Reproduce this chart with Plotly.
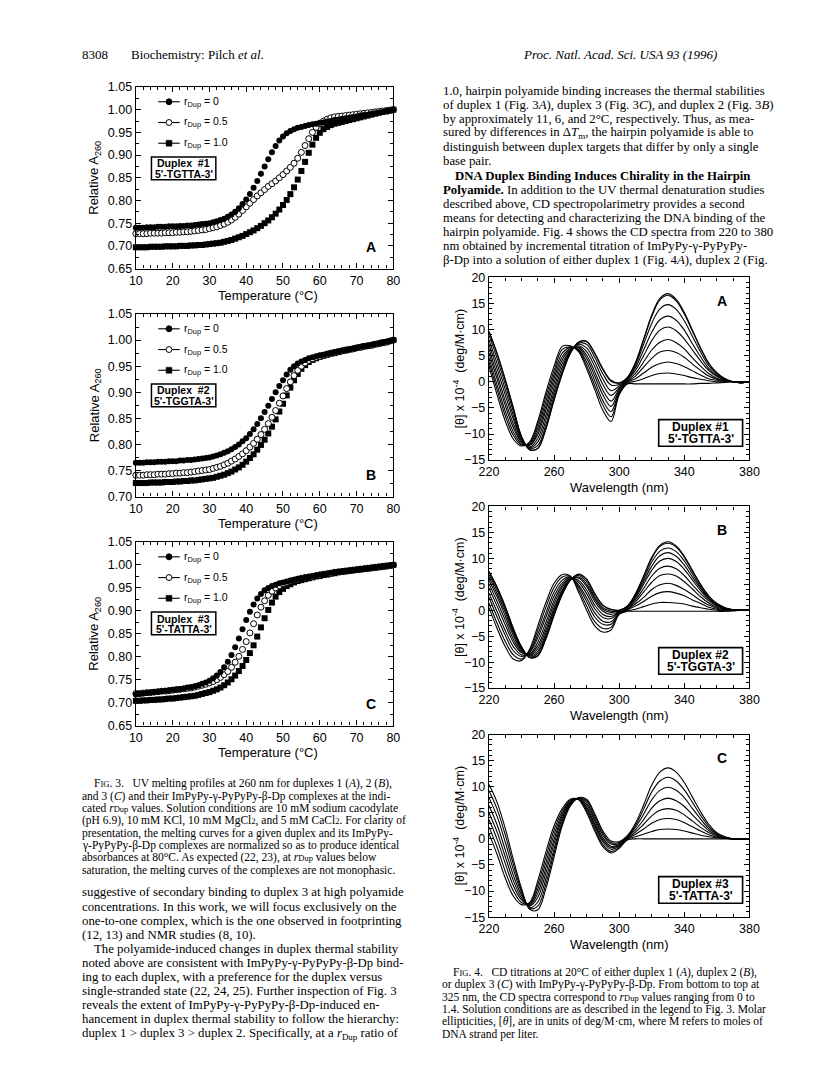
import plotly.graph_objects as go

W, H = 816, 1087

# ---------------- DATA ----------------
temps = list(range(10, 81))

melt_A_r0 = [.740,.740,.740,.741,.741,.741,.742,.742,.742,.743,
             .743,.743,.744,.744,.745,.745,.746,.747,.748,.749,
             .750,.752,.754,.757,.760,.764,.769,.775,.783,.792,
             .802,.814,.828,.843,.859,.875,.891,.906,.920,.932,
             .941,.948,.953,.957,.960,.962,.964,.966,.968,.969,
             .971,.972,.974,.975,.977,.978,.980,.981,.982,.984,
             .985,.987,.988,.989,.991,.992,.994,.995,.997,.998,1.000]
melt_A_r05 = [.727,.727,.727,.727,.728,.728,.728,.728,.729,.729,
              .729,.730,.730,.731,.731,.732,.733,.734,.735,.736,
              .738,.740,.742,.745,.748,.752,.757,.763,.770,.778,
              .786,.794,.802,.810,.817,.824,.831,.837,.843,.850,
              .857,.865,.873,.882,.893,.906,.921,.936,.950,.961,
              .969,.975,.979,.982,.984,.985,.986,.987,.988,.989,
              .990,.991,.992,.993,.994,.995,.996,.997,.998,.999,1.000]
melt_A_r10 = [.697,.697,.697,.697,.698,.698,.698,.698,.699,.699,
              .699,.699,.700,.700,.700,.701,.701,.702,.702,.703,
              .704,.705,.706,.707,.709,.711,.713,.716,.719,.722,
              .726,.730,.734,.739,.744,.750,.756,.763,.771,.780,
              .790,.801,.814,.829,.846,.865,.885,.905,.923,.938,
              .949,.957,.962,.966,.969,.971,.973,.975,.977,.979,
              .981,.983,.985,.987,.989,.991,.993,.995,.996,.998,1.000]

melt_B_r0 = [.765,.765,.765,.766,.766,.766,.767,.767,.767,.768,
             .768,.768,.769,.769,.770,.770,.771,.772,.773,.774,
             .775,.777,.779,.781,.784,.787,.791,.795,.800,.806,
             .812,.820,.829,.839,.850,.862,.874,.887,.900,.912,
             .923,.934,.943,.950,.955,.959,.962,.965,.967,.969,
             .971,.972,.974,.975,.977,.978,.980,.981,.982,.984,
             .985,.987,.988,.989,.991,.992,.994,.995,.997,.998,1.000]
melt_B_r05 = [.741,.741,.741,.742,.742,.742,.743,.743,.743,.744,
              .744,.745,.745,.746,.746,.747,.748,.749,.750,.751,
              .752,.754,.756,.758,.761,.764,.768,.772,.777,.782,
              .788,.795,.802,.810,.819,.829,.840,.852,.865,.879,
              .893,.907,.920,.932,.942,.950,.956,.961,.964,.967,
              .969,.971,.973,.975,.976,.978,.979,.981,.982,.983,
              .985,.986,.988,.989,.990,.992,.993,.995,.996,.998,1.000]
melt_B_r10 = [.726,.726,.726,.726,.727,.727,.727,.727,.728,.728,
              .728,.729,.729,.730,.730,.731,.731,.732,.733,.734,
              .735,.736,.738,.740,.742,.745,.748,.752,.756,.761,
              .767,.774,.781,.790,.799,.809,.821,.834,.848,.863,
              .878,.894,.909,.923,.935,.945,.952,.958,.962,.965,
              .968,.970,.972,.974,.975,.977,.979,.980,.982,.983,
              .985,.986,.988,.989,.990,.992,.993,.995,.996,.998,1.000]

melt_C_r0 = [.718,.719,.720,.721,.722,.723,.724,.725,.726,.727,
             .728,.729,.730,.731,.733,.734,.736,.738,.741,.744,
             .748,.753,.759,.767,.777,.789,.804,.821,.840,.860,
             .880,.898,.914,.927,.937,.945,.950,.954,.957,.960,
             .962,.964,.966,.968,.970,.971,.973,.974,.976,.977,
             .979,.980,.981,.983,.984,.985,.986,.987,.988,.989,
             .990,.991,.992,.993,.994,.995,.996,.997,.998,.999,1.000]
melt_C_r05 = [.720,.720,.721,.722,.722,.723,.724,.725,.725,.726,
              .727,.728,.729,.730,.731,.732,.734,.736,.738,.740,
              .743,.746,.750,.755,.761,.768,.777,.788,.801,.816,
              .833,.852,.872,.891,.908,.922,.934,.943,.950,.955,
              .959,.962,.965,.967,.969,.971,.972,.974,.975,.977,
              .978,.980,.981,.982,.984,.985,.986,.987,.988,.989,
              .990,.991,.992,.993,.994,.995,.996,.997,.998,.999,1.000]
melt_C_r10 = [.704,.704,.705,.705,.706,.706,.707,.707,.708,.709,
              .709,.710,.711,.712,.713,.714,.715,.717,.719,.721,
              .723,.726,.729,.733,.738,.744,.751,.759,.769,.780,
              .793,.808,.825,.844,.864,.884,.902,.918,.931,.941,
              .948,.954,.958,.962,.965,.967,.969,.971,.973,.975,
              .976,.978,.979,.981,.982,.984,.985,.986,.987,.988,
              .989,.990,.991,.992,.993,.994,.995,.996,.997,.998,1.000]

rdup_labels = ["0", "0.5", "1.0"]

wavelengths = [220, 225, 230, 235, 240, 245, 250, 255, 260, 265, 270, 275, 280,
               285, 290, 295, 300, 305, 310, 315, 320, 325, 330, 335, 340, 345,
               350, 355, 360, 365, 370, 375, 380]

# one row per wavelength, one column per titration spectrum (bottom -> top at 325 nm)
cd_A_rows = [
    [3.0, 3.8, 4.6, 5.5, 6.3, 7.2, 8.0, 8.9, 9.6, 9.7],
    [-2.5, -1.5, -0.6, 0.5, 1.4, 2.5, 3.5, 4.5, 5.3, 5.5],
    [-7.5, -6.5, -5.6, -4.5, -3.6, -2.5, -1.5, -0.5, 0.3, 0.5],
    [-11.0, -10.3, -9.6, -8.8, -8.1, -7.2, -6.5, -5.7, -5.1, -5.0],
    [-12.3, -12.1, -11.9, -11.6, -11.4, -11.2, -10.9, -10.7, -10.5, -10.5],
    [-11.5, -11.7, -11.9, -12.1, -12.2, -12.5, -12.6, -12.8, -13.0, -13.0],
    [-7.5, -8.1, -8.8, -9.5, -10.1, -10.8, -11.5, -12.2, -12.7, -12.8],
    [-2.0, -2.8, -3.7, -4.6, -5.4, -6.4, -7.3, -8.2, -8.9, -9.0],
    [3.0, 2.2, 1.4, 0.6, -0.2, -1.1, -1.9, -2.7, -3.4, -3.5],
    [6.8, 6.2, 5.5, 4.8, 4.2, 3.5, 2.8, 2.1, 1.6, 1.5],
    [6.9, 6.7, 6.6, 6.4, 6.2, 6.0, 5.9, 5.7, 5.5, 5.5],
    [5.8, 6.0, 6.2, 6.5, 6.7, 6.9, 7.2, 7.4, 7.6, 7.6],
    [2.5, 3.1, 3.8, 4.5, 5.1, 5.8, 6.5, 7.2, 7.7, 7.8],
    [-1.5, -0.7, 0.2, 1.1, 1.9, 2.9, 3.8, 4.7, 5.4, 5.5],
    [-5.5, -4.5, -3.6, -2.5, -1.6, -0.5, 0.5, 1.5, 2.3, 2.5],
    [-7.6, -6.7, -5.7, -4.7, -3.7, -2.6, -1.7, -0.6, 0.1, 0.3],
    [-2.5, -2.2, -2.0, -1.7, -1.4, -1.1, -0.8, -0.5, -0.2, -0.2],
    [-0.4, -0.3, -0.1, 0.0, 0.2, 0.4, 0.5, 0.7, 0.8, 0.8],
    [-0.4, 0.1, 0.6, 1.1, 1.6, 2.2, 2.7, 3.2, 3.6, 3.7],
    [-0.4, 0.6, 1.7, 2.8, 3.8, 5.0, 6.1, 7.2, 8.0, 8.2],
    [-0.4, 1.2, 2.8, 4.5, 6.1, 7.9, 9.5, 11.2, 12.5, 12.8],
    [-0.4, 1.6, 3.5, 5.7, 7.6, 9.9, 11.9, 14.0, 15.7, 16.0],
    [-0.4, 1.7, 3.8, 6.0, 8.1, 10.5, 12.6, 14.8, 16.6, 16.9],
    [-0.4, 1.5, 3.5, 5.6, 7.5, 9.8, 11.8, 13.9, 15.5, 15.8],
    [-0.4, 1.2, 2.9, 4.7, 6.3, 8.2, 9.9, 11.7, 13.0, 13.3],
    [-0.4, 0.8, 2.1, 3.4, 4.6, 6.1, 7.3, 8.7, 9.7, 9.9],
    [-0.3, 0.5, 1.3, 2.2, 3.0, 4.0, 4.8, 5.7, 6.4, 6.5],
    [-0.3, 0.2, 0.6, 1.1, 1.6, 2.2, 2.6, 3.1, 3.5, 3.6],
    [-0.2, 0.0, 0.3, 0.5, 0.7, 1.0, 1.2, 1.5, 1.7, 1.7],
    [-0.1, 0.0, 0.1, 0.2, 0.2, 0.3, 0.4, 0.5, 0.6, 0.6],
    [0.0, 0.0, 0.0, 0.0, 0.0, 0.0, 0.0, 0.0, 0.0, 0.0],
    [0.0, 0.0, 0.0, -0.1, -0.1, -0.1, -0.2, -0.2, -0.2, -0.2],
    [0.0, 0.0, 0.0, 0.0, 0.0, 0.0, 0.0, 0.0, 0.0, 0.0],
]

cd_B_rows = [
    [0.5, 1.4, 2.5, 3.3, 4.3, 5.1, 5.8, 6.4, 6.9, 7.4, 7.5],
    [-3.5, -2.5, -1.3, -0.3, 0.8, 1.7, 2.6, 3.2, 3.8, 4.3, 4.5],
    [-7.0, -6.0, -4.8, -3.9, -2.8, -1.9, -1.1, -0.4, 0.1, 0.6, 0.8],
    [-9.4, -8.6, -7.8, -7.0, -6.2, -5.6, -4.9, -4.4, -4.0, -3.6, -3.5],
    [-9.7, -9.4, -8.9, -8.6, -8.2, -7.9, -7.7, -7.4, -7.2, -7.1, -7.0],
    [-7.5, -7.7, -8.0, -8.1, -8.4, -8.5, -8.7, -8.8, -9.0, -9.1, -9.1],
    [-3.0, -3.8, -4.6, -5.3, -6.1, -6.8, -7.4, -7.9, -8.3, -8.7, -8.8],
    [1.5, 0.6, -0.5, -1.3, -2.3, -3.1, -3.8, -4.4, -4.9, -5.4, -5.5],
    [5.2, 4.4, 3.5, 2.7, 1.9, 1.2, 0.5, 0.0, -0.4, -0.9, -1.0],
    [6.9, 6.4, 5.8, 5.3, 4.8, 4.4, 3.9, 3.6, 3.4, 3.1, 3.0],
    [6.6, 6.5, 6.4, 6.3, 6.2, 6.1, 6.0, 5.9, 5.9, 5.8, 5.8],
    [3.5, 4.0, 4.5, 4.9, 5.4, 5.8, 6.2, 6.4, 6.7, 6.9, 7.0],
    [0.0, 0.8, 1.7, 2.4, 3.2, 3.9, 4.6, 5.0, 5.5, 5.9, 6.0],
    [-3.0, -2.2, -1.3, -0.5, 0.3, 1.0, 1.7, 2.2, 2.6, 3.1, 3.2],
    [-4.2, -3.5, -2.7, -2.1, -1.4, -0.8, -0.2, 0.2, 0.5, 0.9, 1.0],
    [-3.8, -3.3, -2.7, -2.2, -1.6, -1.2, -0.8, -0.4, -0.2, 0.1, 0.2],
    [-0.8, -0.7, -0.6, -0.5, -0.4, -0.3, -0.2, -0.1, -0.1, 0.0, 0.0],
    [-0.2, -0.1, 0.1, 0.2, 0.3, 0.5, 0.6, 0.6, 0.7, 0.8, 0.8],
    [-0.2, 0.2, 0.8, 1.2, 1.6, 2.0, 2.4, 2.7, 2.9, 3.1, 3.2],
    [-0.2, 0.7, 1.7, 2.5, 3.5, 4.2, 5.0, 5.5, 6.0, 6.5, 6.6],
    [-0.2, 1.2, 2.7, 4.0, 5.4, 6.6, 7.7, 8.5, 9.3, 10.0, 10.2],
    [-0.2, 1.5, 3.4, 4.9, 6.7, 8.1, 9.5, 10.5, 11.4, 12.3, 12.5],
    [-0.2, 1.5, 3.6, 5.2, 7.0, 8.5, 10.0, 11.1, 12.0, 12.9, 13.2],
    [-0.2, 1.4, 3.3, 4.8, 6.6, 8.0, 9.4, 10.4, 11.3, 12.2, 12.4],
    [-0.2, 1.2, 2.8, 4.0, 5.5, 6.7, 7.9, 8.7, 9.5, 10.2, 10.4],
    [-0.2, 0.8, 2.0, 3.0, 4.1, 4.9, 5.8, 6.4, 7.0, 7.5, 7.7],
    [-0.2, 0.5, 1.3, 1.9, 2.6, 3.2, 3.8, 4.2, 4.5, 4.9, 5.0],
    [-0.2, 0.2, 0.6, 1.0, 1.4, 1.8, 2.1, 2.3, 2.5, 2.7, 2.8],
    [-0.2, 0.0, 0.2, 0.4, 0.6, 0.8, 0.9, 1.1, 1.2, 1.3, 1.3],
    [-0.2, -0.1, 0.0, 0.1, 0.2, 0.3, 0.3, 0.4, 0.4, 0.5, 0.5],
    [-0.1, -0.1, 0.0, 0.0, 0.0, 0.0, 0.1, 0.1, 0.1, 0.1, 0.1],
    [0.0, 0.0, 0.0, 0.0, 0.0, 0.0, 0.0, 0.0, 0.0, 0.0, 0.0],
    [0.0, 0.0, 0.0, 0.0, 0.0, 0.0, 0.0, 0.0, 0.0, 0.0, 0.0],
]

cd_C_rows = [
    [1.0, 2.3, 3.7, 5.0, 6.4, 7.9, 9.2, 10.4],
    [-3.0, -1.6, -0.1, 1.3, 2.7, 4.3, 5.7, 7.0],
    [-7.5, -6.2, -4.7, -3.4, -2.1, -0.6, 0.8, 2.0],
    [-11.0, -10.0, -9.0, -8.0, -7.0, -5.9, -4.9, -4.0],
    [-12.6, -12.2, -11.7, -11.3, -10.8, -10.3, -9.9, -9.5],
    [-12.2, -12.4, -12.6, -12.8, -12.9, -13.2, -13.3, -13.5],
    [-8.0, -8.8, -9.6, -10.4, -11.2, -12.1, -12.9, -13.6],
    [-2.5, -3.5, -4.5, -5.5, -6.5, -7.6, -8.6, -9.5],
    [2.5, 1.7, 0.8, -0.1, -0.9, -1.9, -2.7, -3.5],
    [5.8, 5.3, 4.8, 4.4, 3.9, 3.4, 2.9, 2.5],
    [7.6, 7.4, 7.2, 7.0, 6.9, 6.7, 6.5, 6.3],
    [7.5, 7.6, 7.6, 7.7, 7.7, 7.8, 7.8, 7.9],
    [5.0, 5.4, 5.8, 6.1, 6.5, 6.9, 7.3, 7.6],
    [1.5, 2.0, 2.5, 2.9, 3.4, 3.9, 4.4, 4.8],
    [-1.5, -1.1, -0.6, -0.2, 0.2, 0.7, 1.1, 1.5],
    [-2.7, -2.4, -2.0, -1.7, -1.4, -1.0, -0.7, -0.4],
    [-1.8, -1.6, -1.4, -1.2, -1.1, -0.9, -0.7, -0.5],
    [-0.2, -0.1, 0.0, 0.1, 0.3, 0.4, 0.5, 0.6],
    [0.0, 0.4, 0.9, 1.3, 1.7, 2.2, 2.6, 3.0],
    [0.0, 0.9, 1.9, 2.8, 3.7, 4.7, 5.7, 6.5],
    [0.0, 1.4, 3.0, 4.4, 5.9, 7.5, 9.0, 10.3],
    [0.0, 1.8, 3.7, 5.5, 7.3, 9.3, 11.1, 12.8],
    [0.0, 1.9, 3.9, 5.8, 7.8, 9.9, 11.8, 13.6],
    [0.0, 1.8, 3.7, 5.5, 7.3, 9.3, 11.1, 12.8],
    [0.0, 1.5, 3.1, 4.6, 6.2, 7.9, 9.4, 10.8],
    [0.0, 1.1, 2.3, 3.4, 4.6, 5.8, 7.0, 8.0],
    [0.0, 0.7, 1.5, 2.2, 3.0, 3.8, 4.5, 5.2],
    [0.0, 0.4, 0.8, 1.2, 1.6, 2.0, 2.4, 2.8],
    [0.0, 0.2, 0.3, 0.5, 0.7, 0.9, 1.0, 1.2],
    [0.0, 0.1, 0.1, 0.2, 0.2, 0.3, 0.3, 0.4],
    [0.0, 0.0, 0.0, 0.0, 0.0, 0.0, 0.0, 0.0],
    [0.0, 0.0, 0.0, 0.0, 0.0, 0.0, 0.0, 0.0],
    [0.0, 0.0, 0.0, 0.0, 0.0, 0.0, 0.0, 0.0],
]

# ---------------- HELPERS ----------------
def fx(p):
    return p / W


def fy(p):
    return 1 - p / H


SANS = "Liberation Sans, Arial, sans-serif"
SERIF = "Liberation Serif, Times New Roman, serif"

fig = go.Figure()
annotations = []
shapes = []


def text(x, y, s, size=12.8, family=SERIF, anchor="left", bold=False, vanchor="middle", angle=0):
    if bold:
        s = "<b>" + s + "</b>"
    annotations.append(dict(x=fx(x), y=fy(y), xref="paper", yref="paper", text=s,
                            showarrow=False, xanchor=anchor, yanchor=vanchor,
                            textangle=angle, borderpad=0,
                            font=dict(family=family, size=size, color="black")))


def axis_common():
    return dict(showline=True, linecolor="black", linewidth=1.3, mirror="ticks",
                ticks="inside", ticklen=5, tickwidth=1, tickcolor="black",
                showgrid=False, zeroline=False,
                tickfont=dict(family=SANS, size=12.5, color="black"))


layout_axes = {}

# ---------------- MELTING PANELS (Fig. 3) ----------------
melt_panels = [
    ("A", [melt_A_r10, melt_A_r05, melt_A_r0], 81, 265, 0.65, "Duplex  #1", "5'-TGTTA-3'"),
    ("B", [melt_B_r10, melt_B_r05, melt_B_r0], 311, 496, 0.70, "Duplex  #2", "5'-TGGTA-3'"),
    ("C", [melt_C_r10, melt_C_r05, melt_C_r0], 542, 728, 0.65, "Duplex  #3", "5'-TATTA-3'"),
]
ML, MR = 129, 393
styles = [dict(symbol="square", color="black", line=dict(width=0)),
          dict(symbol="circle", color="white", line=dict(width=1, color="black")),
          dict(symbol="circle", color="black", line=dict(width=0))]

for i, (lab, series, top, bot, ymin, d1, d2) in enumerate(melt_panels):
    n = i + 1
    xa = "x" if n == 1 else f"x{n}"
    ya = "y" if n == 1 else f"y{n}"
    for s, st in zip(series, styles):
        fig.add_trace(go.Scatter(x=temps, y=s, mode="markers", xaxis=xa, yaxis=ya,
                                 marker=dict(size=6, **st), showlegend=False,
                                 cliponaxis=False))
    xk = "xaxis" if n == 1 else f"xaxis{n}"
    yk = "yaxis" if n == 1 else f"yaxis{n}"
    ax = axis_common()
    ax.update(domain=[fx(ML), fx(MR)], range=[10, 80], anchor=ya, tickvals=list(range(10, 81, 10)),
              minor=dict(dtick=2, ticks="inside", ticklen=3, tickcolor="black"))
    layout_axes[xk] = ax
    ay = axis_common()
    yt = [round(ymin + 0.05 * k, 2) for k in range(int(round((1.05 - ymin) / 0.05)) + 1)]
    ay.update(domain=[fy(bot), fy(top)], range=[ymin, 1.05], anchor=xa, tickvals=yt,
              ticktext=[f"{v:.2f}" for v in yt],
              minor=dict(dtick=0.025, ticks="inside", ticklen=3, tickcolor="black"))
    layout_axes[yk] = ay

    # axis titles
    text((ML + MR) / 2 + 3, bot + 27, "Temperature (°C)", size=13, family=SANS, anchor="center")
    text(87, (top + bot) / 2, "Relative A<sub>260</sub>", size=13, family=SANS,
         anchor="center", angle=-90)
    # panel letter
    text(370, bot - 22, lab, size=14, family=SANS, anchor="center", bold=True)
    # legend
    rows = [top + 15, top + 36, top + 57]
    for r, lbl, kind in zip(rows, rdup_labels, ["fc", "oc", "sq"]):
        shapes.append(dict(type="line", xref="paper", yref="paper", x0=fx(152), x1=fx(174),
                           y0=fy(r), y1=fy(r), line=dict(color="black", width=1.1)))
        if kind == "sq":
            shapes.append(dict(type="rect", xref="paper", yref="paper", x0=fx(160), x1=fx(166),
                               y0=fy(r + 3), y1=fy(r - 3), fillcolor="black",
                               line=dict(color="black", width=0.5)))
        else:
            shapes.append(dict(type="circle", xref="paper", yref="paper", x0=fx(160), x1=fx(166),
                               y0=fy(r + 3), y1=fy(r - 3),
                               fillcolor="black" if kind == "fc" else "white",
                               line=dict(color="black", width=1)))
        text(177, r, "r<sub>Dup</sub> = " + lbl, size=10.5, family=SANS)
    # duplex box
    shapes.append(dict(type="rect", xref="paper", yref="paper", x0=fx(145), x1=fx(211),
                       y0=fy(top + 94), y1=fy(top + 71), fillcolor="white",
                       line=dict(color="black", width=1.5)))
    text(178, top + 77.5, d1, size=10.5, family=SANS, anchor="center", bold=True)
    text(178, top + 88, d2, size=10.5, family=SANS, anchor="center", bold=True)

# ---------------- CD PANELS (Fig. 4) ----------------
cd_panels = [
    ("A", cd_A_rows, 274, 459, "Duplex #1", "5'-TGTTA-3'"),
    ("B", cd_B_rows, 506, 690, "Duplex #2", "5'-TGGTA-3'"),
    ("C", cd_C_rows, 737, 922, "Duplex #3", "5'-TATTA-3'"),
]
CL, CR = 491, 758
for i, (lab, rows_, top, bot, d1, d2) in enumerate(cd_panels):
    n = i + 4
    xa, ya = f"x{n}", f"y{n}"
    ncur = len(rows_[0])
    for k in range(ncur):
        fig.add_trace(go.Scatter(x=wavelengths, y=[r[k] for r in rows_], mode="lines",
                                 xaxis=xa, yaxis=ya,
                                 line=dict(color="black", width=1.1, shape="spline", smoothing=1.0),
                                 showlegend=False))
    ax = axis_common()
    ax.update(domain=[fx(CL), fx(CR)], range=[220, 380], anchor=ya,
              tickvals=[220, 260, 300, 340, 380],
              minor=dict(dtick=10, ticks="inside", ticklen=3, tickcolor="black"))
    layout_axes[f"xaxis{n}"] = ax
    ay = axis_common()
    ay.update(domain=[fy(bot), fy(top)], range=[-15, 20], anchor=xa,
              tickvals=[-15, -10, -5, 0, 5, 10, 15, 20],
              minor=dict(dtick=1, ticks="inside", ticklen=3, tickcolor="black"))
    layout_axes[f"yaxis{n}"] = ay

    text((CL + CR) / 2, bot + 28, "Wavelength (nm)", size=13, family=SANS, anchor="center")
    text(460, (top + bot) / 2, "[θ] x 10<sup>-4</sup>  (deg/M·cm)", size=12.5, family=SANS,
         anchor="center", angle=-90)
    text(730, top + 24, lab, size=14, family=SANS, anchor="center", bold=True)
    shapes.append(dict(type="rect", xref="paper", yref="paper", x0=fx(665), x1=fx(751),
                       y0=fy(bot - 14), y1=fy(bot - 41), fillcolor="white",
                       line=dict(color="black", width=1.6)))
    text(708, bot - 34, d1, size=12, family=SANS, anchor="center", bold=True)
    text(708, bot - 21.5, d2, size=12, family=SANS, anchor="center", bold=True)

# ---------------- PAGE TEXT ----------------
SMALL = "<span style='font-size:8.5px'>{}</span>"

text(73, 48, "8308", size=13)
text(123, 48, "Biochemistry: Pilch <i>et al.</i>", size=13)
text(525, 48, "<i>Proc. Natl. Acad. Sci. USA 93 (1996)</i>", size=13)

right_lines = [
    (443, "1.0, hairpin polyamide binding increases the thermal stabilities"),
    (443, "of duplex 1 (Fig. 3<i>A</i>), duplex 3 (Fig. 3<i>C</i>), and duplex 2 (Fig. 3<i>B</i>)"),
    (443, "by approximately 11, 6, and 2°C, respectively. Thus, as mea-"),
    (443, "sured by differences in Δ<i>T</i><sub>m</sub>, the hairpin polyamide is able to"),
    (443, "distinguish between duplex targets that differ by only a single"),
    (443, "base pair."),
    (455, "<b>DNA Duplex Binding Induces Chirality in the Hairpin</b>"),
    (443, "<b>Polyamide.</b> In addition to the UV thermal denaturation studies"),
    (443, "described above, CD spectropolarimetry provides a second"),
    (443, "means for detecting and characterizing the DNA binding of the"),
    (443, "hairpin polyamide. Fig. 4 shows the CD spectra from 220 to 380"),
    (443, "nm obtained by incremental titration of ImPyPy-γ-PyPyPy-"),
    (443, "β-Dp into a solution of either duplex 1 (Fig. 4<i>A</i>), duplex 2 (Fig."),
]
for j, (x, s) in enumerate(right_lines):
    text(x, 85 + j * 14.3, s, size=12.8)

cap3 = [
    (85, "F" + SMALL.format("IG") + ". 3.   UV melting profiles at 260 nm for duplexes 1 (<i>A</i>), 2 (<i>B</i>),"),
    (73, "and 3 (<i>C</i>) and their ImPyPy-γ-PyPyPy-β-Dp complexes at the indi-"),
    (73, "cated <i>r</i>" + SMALL.format("Dup") + " values. Solution conditions are 10 mM sodium cacodylate"),
    (73, "(pH 6.9), 10 mM KCl, 10 mM MgCl" + SMALL.format("2") + ", and 5 mM CaCl" + SMALL.format("2") + ". For clarity of"),
    (73, "presentation, the melting curves for a given duplex and its ImPyPy-"),
    (73, "γ-PyPyPy-β-Dp complexes are normalized so as to produce identical"),
    (73, "absorbances at 80°C. As expected (22, 23), at <i>r</i>" + SMALL.format("Dup") + " values below"),
    (73, "saturation, the melting curves of the complexes are not monophasic."),
]
for j, (x, s) in enumerate(cap3):
    text(x, 787 + j * 12.5, s, size=11.5)

left_body = [
    (73, "suggestive of secondary binding to duplex 3 at high polyamide"),
    (73, "concentrations. In this work, we will focus exclusively on the"),
    (73, "one-to-one complex, which is the one observed in footprinting"),
    (73, "(12, 13) and NMR studies (8, 10)."),
    (85, "The polyamide-induced changes in duplex thermal stability"),
    (73, "noted above are consistent with ImPyPy-γ-PyPyPy-β-Dp bind-"),
    (73, "ing to each duplex, with a preference for the duplex versus"),
    (73, "single-stranded state (22, 24, 25). Further inspection of Fig. 3"),
    (73, "reveals the extent of ImPyPy-γ-PyPyPy-β-Dp-induced en-"),
    (73, "hancement in duplex thermal stability to follow the hierarchy:"),
    (73, "duplex 1 &gt; duplex 3 &gt; duplex 2. Specifically, at a <i>r</i><sub>Dup</sub> ratio of"),
]
for j, (x, s) in enumerate(left_body):
    text(x, 897 + j * 14.3, s, size=12.8)

cap4 = [
    (453, "F" + SMALL.format("IG") + ". 4.   CD titrations at 20°C of either duplex 1 (<i>A</i>), duplex 2 (<i>B</i>),"),
    (442, "or duplex 3 (<i>C</i>) with ImPyPy-γ-PyPyPy-β-Dp. From bottom to top at"),
    (442, "325 nm, the CD spectra correspond to <i>r</i>" + SMALL.format("Dup") + " values ranging from 0 to"),
    (442, "1.4. Solution conditions are as described in the legend to Fig. 3. Molar"),
    (442, "ellipticities, [<i>θ</i>], are in units of deg/M·cm, where M refers to moles of"),
    (442, "DNA strand per liter."),
]
for j, (x, s) in enumerate(cap4):
    text(x, 978 + j * 12.5, s, size=11.5)

fig.update_layout(width=W, height=H, margin=dict(l=0, r=0, t=0, b=0),
                  paper_bgcolor="white", plot_bgcolor="rgba(0,0,0,0)",
                  showlegend=False, annotations=annotations, shapes=shapes,
                  **layout_axes)

fig.write_html("out.html", config={"displayModeBar": False},
               post_script="document.body.style.margin='0';")
